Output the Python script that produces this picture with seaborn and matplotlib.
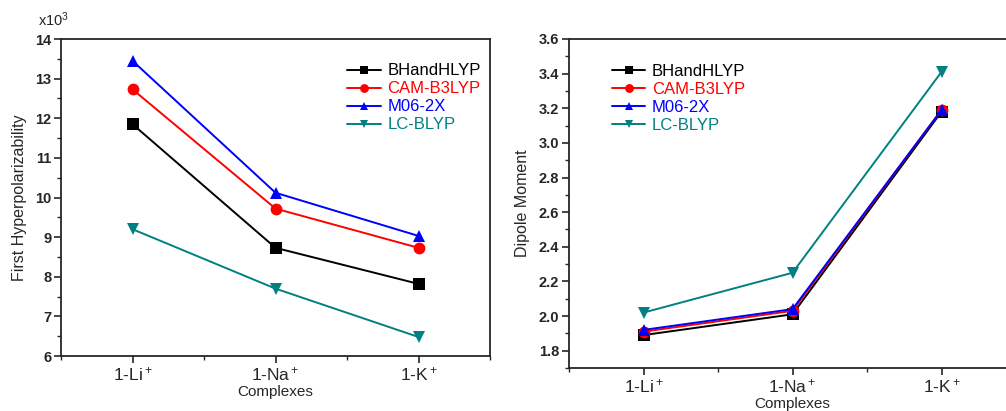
import pandas as pd
import matplotlib.pyplot as plt
import seaborn as sns
from matplotlib.ticker import MultipleLocator

# complexes and functionals
complexes = ['1-Li$^+$', '1-Na$^+$', '1-K$^+$']
methods = ['BHandHLYP', 'CAM-B3LYP', 'M06-2X', 'LC-BLYP']

# first hyperpolarizability (x10^3)
beta_bhandhlyp = [11.85, 8.73, 7.82]
beta_cam = [12.73, 9.72, 8.73]
beta_m06 = [13.45, 10.12, 9.03]
beta_lc = [9.2, 7.7, 6.48]

# dipole moment
dip_bhandhlyp = [1.89, 2.01, 3.18]
dip_cam = [1.91, 2.03, 3.19]
dip_m06 = [1.92, 2.04, 3.19]
dip_lc = [2.02, 2.25, 3.41]

colors = {'BHandHLYP': 'black', 'CAM-B3LYP': '#ff0000', 'M06-2X': '#0000ff', 'LC-BLYP': '#008080'}
markers = {'BHandHLYP': 's', 'CAM-B3LYP': 'o', 'M06-2X': '^', 'LC-BLYP': 'v'}


def make_df(series):
    rows = []
    for m, vals in zip(methods, series):
        for i, v in enumerate(vals):
            rows.append({'pos': i, 'Method': m, 'value': v})
    return pd.DataFrame(rows)


df_beta = make_df([beta_bhandhlyp, beta_cam, beta_m06, beta_lc])
df_dip = make_df([dip_bhandhlyp, dip_cam, dip_m06, dip_lc])

sns.set_style('ticks')
plt.rcParams['font.family'] = ['Liberation Sans', 'DejaVu Sans']
plt.rcParams['mathtext.fontset'] = 'custom'
plt.rcParams['mathtext.rm'] = 'Liberation Sans'
plt.rcParams['mathtext.it'] = 'Liberation Sans'
plt.rcParams['mathtext.bf'] = 'Liberation Sans:bold'

fig = plt.figure(figsize=(10.06, 4.11), dpi=100)
W, H = 1006, 411
ax1 = fig.add_axes([61 / W, 1 - 356 / H, (490 - 61) / W, (356 - 39) / H])
ax2 = fig.add_axes([569 / W, 1 - 368 / H, (1016 - 569) / W, (368 - 39) / H])


def draw(ax, df):
    sns.lineplot(data=df, x='pos', y='value', hue='Method', style='Method',
                 palette=colors, markers=markers, dashes=False, markersize=8.5,
                 markeredgewidth=0, linewidth=1.4, ax=ax)
    ax.set_xlim(-0.5, 2.5)
    ax.set_xticks(range(len(complexes)))
    ax.set_xticklabels(complexes, fontsize=12.5)
    ax.xaxis.set_minor_locator(MultipleLocator(0.5))
    ax.set_xlabel('Complexes', fontsize=11, labelpad=1)
    for s in ax.spines.values():
        s.set_linewidth(1.3)
    ax.tick_params(which='major', direction='out', length=5, width=1.2, pad=2)
    ax.tick_params(which='minor', direction='out', length=3, width=1.0)
    leg = ax.legend(frameon=False, fontsize=12, handlelength=2.0, handletextpad=0.4,
                    labelspacing=0.18, borderaxespad=0.3, markerscale=0.75)
    for txt, m in zip(leg.get_texts(), methods):
        txt.set_color(colors[m])
    return leg


leg1 = draw(ax1, df_beta)
ax1.set_ylim(6, 14)
ax1.yaxis.set_major_locator(MultipleLocator(1))
ax1.yaxis.set_minor_locator(MultipleLocator(0.5))
ax1.set_ylabel('First Hyperpolarizability', fontsize=11.5, labelpad=6)
leg1.set_bbox_to_anchor((0.64, 0.96), transform=ax1.transAxes)
leg1._loc = 2
for lbl in ax1.get_yticklabels():
    lbl.set_fontweight('bold')
    lbl.set_fontsize(10.5)
fig.text(38 / W, 1 - 20 / H, 'x10$^3$', fontsize=10.5, va='center', ha='left')

leg2 = draw(ax2, df_dip)
ax2.set_ylim(1.7, 3.6)
ax2.yaxis.set_major_locator(MultipleLocator(0.2))
ax2.yaxis.set_minor_locator(MultipleLocator(0.1))
ax2.yaxis.set_major_formatter(plt.FormatStrFormatter('%.1f'))
ax2.set_ylabel('Dipole Moment', fontsize=11.5, labelpad=6)
leg2.set_bbox_to_anchor((0.07, 0.96), transform=ax2.transAxes)
leg2._loc = 2
for lbl in ax2.get_yticklabels():
    lbl.set_fontweight('bold')
    lbl.set_fontsize(10.5)

fig.savefig('out.png', dpi=100)
